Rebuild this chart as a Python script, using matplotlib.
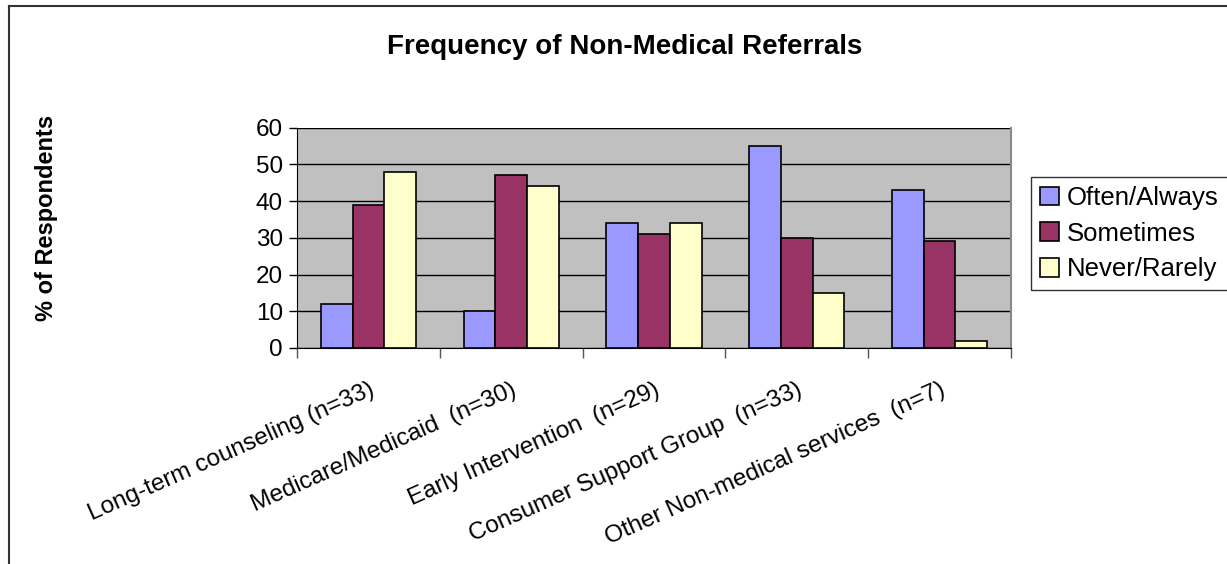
import numpy as np
import matplotlib
matplotlib.use("Agg")
import matplotlib.pyplot as plt
from matplotlib.lines import Line2D

plt.rcParams['font.family'] = ['Liberation Sans', 'DejaVu Sans']

categories = ["Long-term counseling (n=33)", "Medicare/Medicaid  (n=30)",
              "Early Intervention  (n=29)", "Consumer Support Group  (n=33)",
              "Other Non-medical services  (n=7)"]
often = [12, 10, 34, 55, 43]
sometimes = [39, 47, 31, 30, 29]
never = [48, 44, 34, 15, 2]
series = ["Often/Always", "Sometimes", "Never/Rarely"]
colors = ["#9999FF", "#993366", "#FFFFCC"]

W, H = 1227, 564
fig = plt.figure(figsize=(W / 100, H / 100), dpi=100)

# outer frame (top and left only visible)
fig.add_artist(Line2D([9 / W, 1], [1 - 6 / H, 1 - 6 / H], color="#333333", lw=1.5))
fig.add_artist(Line2D([9 / W, 9 / W], [0, 1 - 6 / H], color="#333333", lw=1.5))

ax = fig.add_axes([297 / W, 1 - 348 / H, (1011 - 297) / W, (348 - 127.5) / H])
ax.set_facecolor("#C0C0C0")

x = np.arange(len(categories))
bw = 0.222
for i, (vals, name, c) in enumerate(zip([often, sometimes, never], series, colors)):
    ax.bar(x + (i - 1) * bw, vals, bw, color=c, edgecolor="black", linewidth=1.2,
           label=name, zorder=3)

ax.set_xlim(-0.5, len(categories) - 0.5)
ax.set_ylim(0, 60)
ax.set_yticks(range(0, 61, 10))
ax.yaxis.grid(True, color="black", linewidth=1, zorder=1)
ax.tick_params(axis="y", labelsize=17.5, length=6, width=1, direction="out", pad=4)

ax.set_xticks(np.arange(len(categories) + 1) - 0.5)
ax.set_xticklabels([])
ax.tick_params(axis="x", length=7, width=1, direction="out", color="#555555")
ax.set_xticks(x, minor=True)
ax.set_xticklabels(categories, minor=True, rotation=24, ha="right",
                   rotation_mode="anchor", fontsize=17.5)
ax.tick_params(axis="x", which="minor", length=0, pad=22)

ax.spines["top"].set_visible(False)
ax.spines["right"].set_color("#888888")
ax.spines["right"].set_linewidth(1.5)
ax.spines["left"].set_color("black")
ax.spines["bottom"].set_color("black")

fig.text(625 / W, 1 - 47 / H, "Frequency of Non-Medical Referrals", ha="center",
         va="center", fontsize=20, fontweight="bold")
fig.text(47 / W, 1 - 218 / H, "% of Respondents", ha="center", va="center",
         rotation=90, fontsize=17, fontweight="bold")

leg = ax.legend(loc="upper left", bbox_to_anchor=(1031 / W, 1 - 177 / H),
                bbox_transform=fig.transFigure, fontsize=18.5, frameon=True,
                fancybox=False, edgecolor="black", handlelength=0.75,
                handleheight=0.75, handletextpad=0.3, borderpad=0.35,
                labelspacing=0.45, borderaxespad=0)
leg.get_frame().set_linewidth(1)

fig.savefig("out.png", dpi=100)
